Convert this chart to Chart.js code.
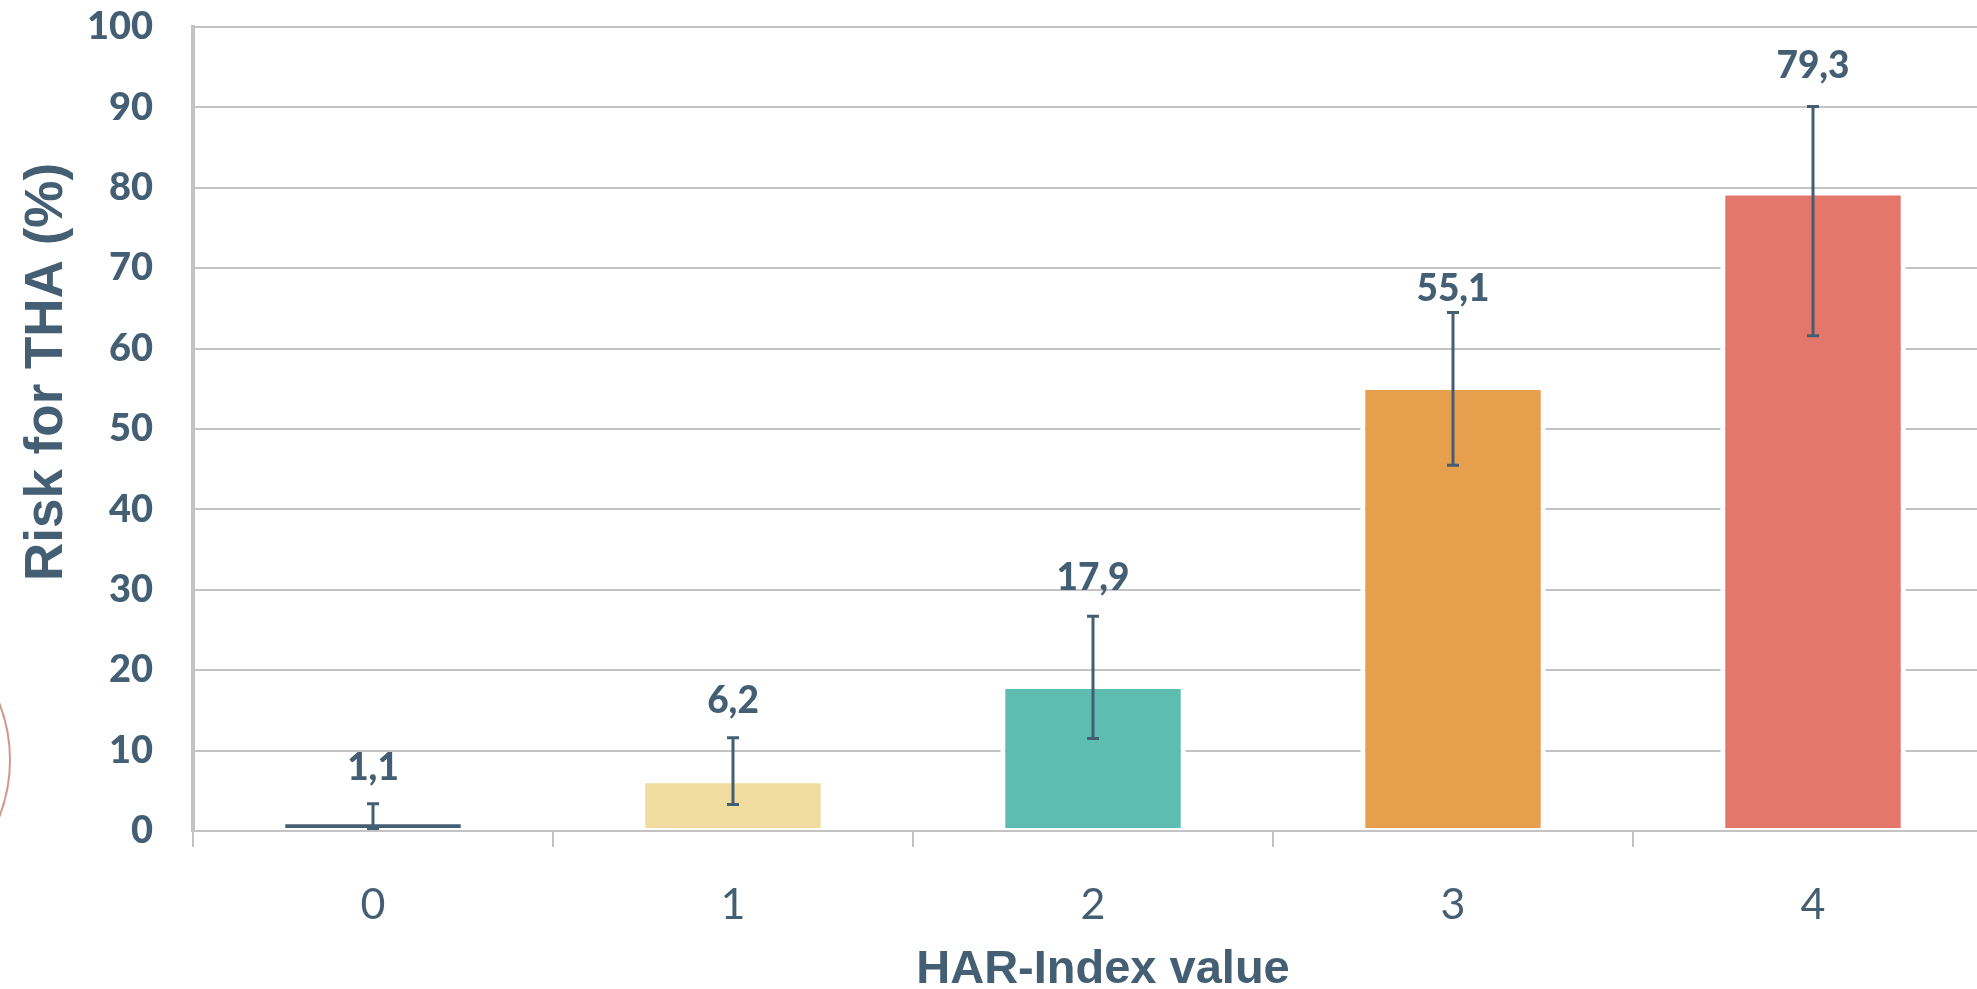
<!DOCTYPE html>
<html>
<head>
<meta charset="utf-8">
<script src="https://cdn.jsdelivr.net/npm/chart.js@4.4.1/dist/chart.umd.min.js"></script>
<style>
  html, body { margin: 0; padding: 0; background: #fff; overflow: hidden; }
  #wrap { position: relative; width: 2000px; height: 989px; }
</style>
</head>
<body>
<div id="wrap"><canvas id="chart" width="2000" height="989"></canvas></div>
<script>
// ── Data ──────────────────────────────────────────────────────────
const categories = ['0', '1', '2', '3', '4'];
const riskValues = [1.1, 6.2, 17.9, 55.1, 79.3];
const errorLow   = [0.3, 3.3, 11.5, 45.5, 61.6];
const errorHigh  = [3.4, 11.6, 26.7, 64.5, 90.1];
const valueLabels = ['1,1', '6,2', '17,9', '55,1', '79,3'];
const yTicks = [0, 10, 20, 30, 40, 50, 60, 70, 80, 90, 100];

// ── Style ─────────────────────────────────────────────────────────
const TEXT  = '#445f73';
const GRID  = '#c3c3c3';
const BAR_COLORS = ['#445f73', '#f0dc9f', '#5dbdb0', '#e69f4c', '#e4766a'];
const LABEL_LIFT = [36, 37, 38, 23, 41];   // px above upper error cap

// ── Plugin: error bars, value labels, axis titles, decor ──────────
const extras = {
  id: 'extras',
  afterDatasetsDraw(chart) {
    const ctx = chart.ctx;
    const y = chart.scales.y;
    const meta = chart.getDatasetMeta(0);
    ctx.save();
    ctx.strokeStyle = TEXT;
    ctx.lineWidth = 3;
    meta.data.forEach((bar, i) => {
      const yl = y.getPixelForValue(errorLow[i]);
      const yh = y.getPixelForValue(errorHigh[i]);
      ctx.beginPath();
      ctx.moveTo(bar.x, yl); ctx.lineTo(bar.x, yh);
      ctx.moveTo(bar.x - 6, yl); ctx.lineTo(bar.x + 6, yl);
      ctx.moveTo(bar.x - 6, yh); ctx.lineTo(bar.x + 6, yh);
      ctx.stroke();
    });
    ctx.fillStyle = TEXT;
    ctx.font = '900 37px Lato';
    ctx.textAlign = 'center';
    ctx.textBaseline = 'middle';
    meta.data.forEach((bar, i) => {
      const yh = y.getPixelForValue(errorHigh[i]);
      ctx.fillText(valueLabels[i], bar.x, yh - LABEL_LIFT[i]);
    });
    ctx.restore();
  },
  afterDraw(chart) {
    const ctx = chart.ctx;
    const area = chart.chartArea;
    ctx.save();
    ctx.fillStyle = TEXT;
    ctx.textAlign = 'center';
    ctx.textBaseline = 'middle';
    ctx.font = 'bold 47px "Liberation Sans"';
    ctx.fillText('HAR-Index value', area.left + 910, 970);
    ctx.translate(47, 372);
    ctx.rotate(-Math.PI / 2);
    ctx.font = 'bold 53px "Liberation Sans"';
    ctx.fillText('Risk for THA (%)', 0, 0);
    ctx.restore();
    // decorative circle at left edge
    ctx.save();
    ctx.strokeStyle = '#d4968c';
    ctx.lineWidth = 2;
    ctx.beginPath();
    ctx.arc(-146, 760, 156, 0, Math.PI * 2);
    ctx.stroke();
    ctx.restore();
  },
};

// ── Chart ─────────────────────────────────────────────────────────
new Chart(document.getElementById('chart'), {
  type: 'bar',
  data: {
    labels: categories,
    datasets: [{
      data: riskValues,
      backgroundColor: BAR_COLORS,
      borderColor: '#ffffff',
      borderWidth: { top: 2, bottom: 2, left: 5, right: 5 },
      borderSkipped: false,
      categoryPercentage: 1,
      barPercentage: 0.515,
    }],
  },
  options: {
    responsive: false,
    animation: false,
    layout: { padding: { top: 27, right: 7, bottom: 0, left: 0 } },
    plugins: {
      legend: { display: false },
      tooltip: { enabled: false },
    },
    scales: {
      x: {
        afterFit: s => { s.height = 158; s.paddingLeft = 0; s.paddingRight = 0; },
        grid: {
          drawOnChartArea: false,
          drawTicks: true,
          tickLength: 16,
          color: GRID,
          lineWidth: 2,
        },
        border: { color: GRID, width: 2 },
        ticks: {
          color: TEXT,
          font: { family: 'Lato', size: 43 },
          padding: 32,
        },
      },
      y: {
        min: 0,
        max: 100,
        afterFit: s => { s.width = 193; s.paddingTop = 0; s.paddingBottom = 0; },
        afterBuildTicks: s => { s.ticks = yTicks.map(v => ({ value: v })); },
        grid: { color: GRID, lineWidth: 2, drawTicks: false },
        border: { color: GRID, width: 4 },
        ticks: {
          color: TEXT,
          font: { family: 'Lato', size: 38, weight: '900' },
          padding: 40,
        },
      },
    },
  },
  plugins: [extras],
});
</script>
</body>
</html>
